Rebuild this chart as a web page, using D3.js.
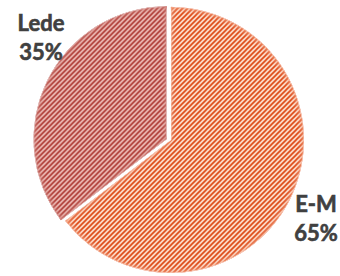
<!DOCTYPE html>
<html lang="en">
<head>
    <meta charset="UTF-8">
    <script src="https://d3js.org/d3.v7.min.js"></script>
    <style>
        body { margin: 0; background: white; }
        .label-text {
            font-family: Lato, "Open Sans", sans-serif;
            font-weight: bold;
            font-size: 22px;
            fill: #404040;
            stroke: #404040;
            stroke-width: 0.6px;
        }
    </style>
</head>
<body>
    <div id="chart"></div>

    <script>
        // data
        const categories = ["E-M", "Lede"];
        const shares = [64.6, 35.4];
        const exploded = [false, true];

        // colours: light ground, stripe, rim tone
        const grounds = ["#fcd7c5", "#f5cbc6"];
        const stripes = ["#de4e1b", "#a62b24"];
        const rims = ["#f29a74", "#cf7e77"];

        const width = 340;
        const height = 276;
        const cx = 171, cy = 140, radius = 133;
        const explode = 5;

        const data = categories.map((c, i) => ({
            name: c, value: shares[i], exploded: exploded[i], idx: i
        }));

        const svg = d3.select("#chart")
            .append("svg")
            .attr("width", width)
            .attr("height", height);

        const defs = svg.append("defs");

        data.forEach(d => {
            const p = defs.append("pattern")
                .attr("id", "hatch" + d.idx)
                .attr("patternUnits", "userSpaceOnUse")
                .attr("width", 5)
                .attr("height", 5);
            p.append("rect")
                .attr("width", 5).attr("height", 5)
                .attr("fill", grounds[d.idx]);
            p.append("path")
                .attr("d", "M-1,1 L1,-1 M0,5 L5,0 M4,6 L6,4")
                .attr("stroke", stripes[d.idx])
                .attr("stroke-width", 1.65);

            const f = defs.append("filter")
                .attr("id", "rim" + d.idx)
                .attr("x", "-10%").attr("y", "-10%")
                .attr("width", "120%").attr("height", "120%");
            f.append("feGaussianBlur")
                .attr("in", "SourceAlpha")
                .attr("stdDeviation", 3)
                .attr("result", "b");
            f.append("feComposite")
                .attr("in", "SourceAlpha").attr("in2", "b")
                .attr("operator", "arithmetic")
                .attr("k2", 1.5).attr("k3", -1.5)
                .attr("result", "rim");
            f.append("feFlood")
                .attr("flood-color", rims[d.idx])
                .attr("result", "c");
            f.append("feComposite")
                .attr("in", "c").attr("in2", "rim")
                .attr("operator", "in")
                .attr("result", "glow");
            const m = f.append("feMerge");
            m.append("feMergeNode").attr("in", "SourceGraphic");
            m.append("feMergeNode").attr("in", "glow");
        });

        const pie = d3.pie()
            .sort(null)
            .value(d => d.value);

        const arc = d3.arc()
            .innerRadius(0)
            .outerRadius(radius);

        const arcs = pie(data);

        const g = svg.append("g")
            .attr("transform", `translate(${cx},${cy})`);

        g.selectAll("path.slice")
            .data(arcs)
            .enter().append("path")
            .attr("class", "slice")
            .attr("transform", d => {
                if (!d.data.exploded) return null;
                const a = (d.startAngle + d.endAngle) / 2;
                return `translate(${explode * Math.sin(a)},${-explode * Math.cos(a) + 1.5})`;
            })
            .attr("d", arc)
            .attr("fill", d => `url(#hatch${d.data.idx})`)
            .attr("stroke", "white")
            .attr("stroke-width", 1)
            .attr("filter", d => `url(#rim${d.data.idx})`);

        // labels, best-fit style outside the pie
        const labelPos = {
            "E-M": [cx + 145, cy + 72],
            "Lede": [cx - 130, cy - 109]
        };
        const pct = d3.format(".0%");
        const total = d3.sum(shares);

        arcs.forEach(d => {
            const [lx, ly] = labelPos[d.data.name];
            const t = svg.append("text")
                .attr("class", "label-text")
                .attr("text-anchor", "middle")
                .attr("x", lx)
                .attr("y", ly);
            t.append("tspan").attr("x", lx).attr("dy", 0).text(d.data.name);
            t.append("tspan").attr("x", lx).attr("dy", 29).text(pct(d.data.value / total));
        });
    </script>
</body>
</html>
